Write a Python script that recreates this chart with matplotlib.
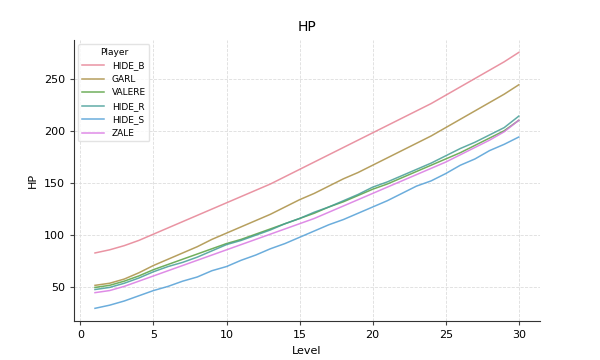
import matplotlib
matplotlib.use("Agg")
import matplotlib.pyplot as plt
import seaborn as sns

# ---- data ----
levels = list(range(1, 31))
players = ["HIDE_B", "GARL", "VALERE", "HIDE_R", "HIDE_S", "ZALE"]

hide_b = [83, 86, 90, 95, 101, 107, 113, 119, 125, 131, 137, 143, 149, 156, 163,
          170, 177, 184, 191, 198, 205, 212, 219, 226, 234, 242, 250, 258, 266, 275]
garl = [52, 54, 58, 64, 71, 77, 83, 89, 96, 102, 108, 114, 120, 127, 134,
        140, 147, 154, 160, 167, 174, 181, 188, 195, 203, 211, 219, 227, 235, 244]
valere = [50, 52, 56, 61, 67, 72, 77, 82, 87, 92, 96, 101, 106, 111, 116,
          121, 127, 132, 138, 144, 149, 155, 161, 167, 173, 179, 186, 193, 200, 210]
hide_r = [48, 50, 54, 59, 65, 70, 74, 79, 85, 91, 95, 100, 105, 111, 116,
          122, 127, 133, 139, 146, 151, 157, 163, 169, 176, 183, 189, 196, 203, 214]
hide_s = [30, 33, 37, 42, 47, 51, 56, 60, 66, 70, 76, 81, 87, 92, 98,
          104, 110, 115, 121, 127, 133, 140, 147, 152, 159, 167, 173, 181, 187, 194]
zale = [45, 47, 51, 56, 61, 66, 71, 76, 81, 86, 91, 96, 101, 106, 111,
        116, 122, 128, 134, 140, 146, 152, 158, 164, 170, 177, 184, 191, 199, 210]

series = [hide_b, garl, valere, hide_r, hide_s, zale]

# muted husl colours, like the reference
colors = sns.color_palette("husl", len(players), desat=0.75)

fig, ax = plt.subplots(figsize=(6, 3.6), dpi=100)
for name, vals, c in zip(players, series, colors):
    ax.plot(levels, vals, color=c, lw=1.1, alpha=0.85, label=name)

ax.set_title("HP", fontsize=10)
ax.set_xlabel("Level", fontsize=8)
ax.set_ylabel("HP", fontsize=8)
ax.tick_params(labelsize=8, length=3, color="#444444")
ax.set_xticks([0, 5, 10, 15, 20, 25, 30])
ax.set_yticks([50, 100, 150, 200, 250])
ax.grid(True, color="#dddddd", linestyle="--", linewidth=0.6)
for s in ["top", "right"]:
    ax.spines[s].set_visible(False)
for s in ["left", "bottom"]:
    ax.spines[s].set_color("#333333")

leg = ax.legend(title="Player", loc="upper left", fontsize=6.5, title_fontsize=6.5,
                frameon=True, handlelength=2.5)
leg.get_frame().set_edgecolor("#dddddd")

fig.subplots_adjust(left=0.123, right=0.9, top=0.89, bottom=0.108)
fig.savefig("out.png", dpi=100)
